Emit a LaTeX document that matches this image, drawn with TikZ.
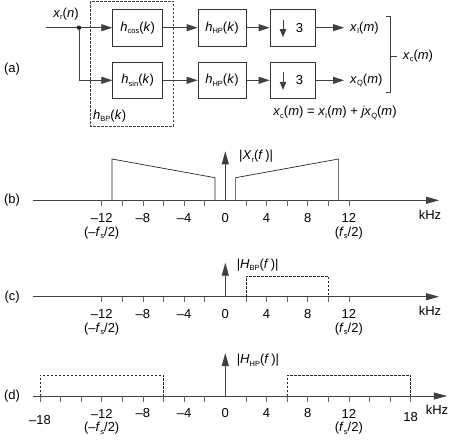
\documentclass[tikz,border=0pt]{standalone}
\usepackage{fontspec}
\setmainfont{Liberation Sans}
\usetikzlibrary{arrows.meta,positioning}
\newcommand{\vi}[1]{\textit{#1}}
\newcommand{\lo}[1]{\raisebox{-0.35ex}{\fontsize{7.5}{8}\selectfont #1}}
\newcommand{\kz}[1]{\ifnum#1<0 \textendash\number\numexpr-#1\relax\else#1\fi}
\tikzset{
  blk/.style={draw=black!80, line width=0.8pt, minimum width=50pt, minimum height=36.7pt, inner sep=0pt, font=\fontsize{13}{15}\selectfont},
  wire/.style={draw=black!75, line width=0.8pt},
  sig/.style={wire, -{Triangle[length=11pt,width=7pt]}},
  axis/.style={draw=black!75, line width=0.8pt, -{Triangle[length=13pt,width=7pt]}},
  tick/.style={draw=black!60, line width=0.8pt},
  spec/.style={draw=black!85, line width=0.7pt},
  filt/.style={draw=black!85, line width=0.7pt, dash pattern=on 2.5pt off 1.5pt},
  lbl/.style={font=\fontsize{13}{15}\selectfont, inner sep=0pt},
}
\begin{document}
\begin{tikzpicture}[x=1pt, y=-1pt]
\useasboundingbox (0,0) rectangle (449,439);
% (a) block diagram
\node[lbl] (pa) at (12,69) {(a)};
\coordinate (xin) at (46,27.7);
\node[lbl] (xr) at (66,14) {\vi{x}\lo{r}(\vi{n})};
\node[circle, fill=black!85, inner sep=0pt, minimum size=4.5pt] (split) at (79,27.7) {};
\node[blk] (hcos) at (137.7,27.7) {\vi{h}\lo{cos}(\vi{k})};
\node[blk] (hsin) at (137.7,80.3) {\vi{h}\lo{sin}(\vi{k})};
\node[blk, minimum width=48pt] (hpa) at (222,27.7) {\vi{h}\lo{HP}(\vi{k})};
\node[blk, minimum width=48pt] (hpb) at (222,80.3) {\vi{h}\lo{HP}(\vi{k})};
\node[blk, minimum width=45pt] (dna) at (292.5,27.7) {};
\node[blk, minimum width=45pt] (dnb) at (292.5,80.3) {};
\node[lbl] (dna3) at ([xshift=7pt]dna.center) {3};
\node[lbl] (dnb3) at ([xshift=7pt]dnb.center) {3};
\draw[sig, -{Triangle[length=8pt,width=6.5pt]}] ([xshift=-9.5pt,yshift=8pt]dna.center) -- ([xshift=-9.5pt,yshift=-9.5pt]dna.center);
\draw[sig, -{Triangle[length=8pt,width=6.5pt]}] ([xshift=-9.5pt,yshift=8pt]dnb.center) -- ([xshift=-9.5pt,yshift=-9.5pt]dnb.center);
\node[lbl, anchor=west, inner xsep=6pt] (xI) at (344,27.7) {\vi{x}\lo{I}(\vi{m})};
\node[lbl, anchor=west, inner xsep=6pt] (xQ) at (344,80.3) {\vi{x}\lo{Q}(\vi{m})};
\draw[wire] (xin) -- (split);
\draw[sig] (split) -- (hcos);
\draw[sig] (split) |- (hsin);
\draw[sig] (hcos) -- (hpa);
\draw[sig] (hsin) -- (hpb);
\draw[sig] (hpa) -- (dna);
\draw[sig] (hpb) -- (dnb);
\draw[sig] (dna) -- (xI);
\draw[sig] (dnb) -- (xQ);
\draw[black!75, line width=0.7pt, dash pattern=on 2.5pt off 1.5pt] (90,1) rectangle (173.3,126);
\node[lbl, anchor=west] (hbp) at (93,116) {\vi{h}\lo{BP}(\vi{k})};
\draw[wire] (386,16.3) -| (390.7,92.7) -- (386,92.7);
\coordinate (brmid) at (390.7,56);
\node[lbl, anchor=west, inner xsep=6pt] (xc) at (396.7,56) {\vi{x}\lo{c}(\vi{m})};
\draw[wire] (brmid) -- (xc);
\node[lbl] (eq) at (335,113) {\vi{x}\lo{c}(\vi{m}) = \vi{x}\lo{I}(\vi{m}) + \vi{jx}\lo{Q}(\vi{m})};
% (b) input spectrum
\begin{scope}[shift={(225.3,200.3)}, x=10.3pt, y=1pt]
  \node[lbl] (pb) at (-20.7,0) {(b)};
  \coordinate (b0) at (-18.67,0); \coordinate (b1) at (20.75,0);
  \coordinate (bo) at (0,0); \coordinate (bt) at (0,49);
  \draw[axis] (b0) -- (b1);
  \draw[axis] (bo) -- (bt);
  \foreach \f in {-12,-10,...,-2,2,4,...,12} \draw[tick] (\f,0) -- (\f,-5.5);
  \foreach \f in {-12,-8,...,12} \node[lbl] (bn\f) at (\f,-17.5) {\kz{\f}};
  \node[lbl] (bfl) at (-12,-32.5) {(\textendash\vi{f}\lo{s}/2)};
  \node[lbl] (bfr) at (12,-32.5) {(\vi{f}\lo{s}/2)};
  \node[lbl] (bkhz) at (19.87,-14) {kHz};
  \draw[spec] (-11,0) -- (-11,41.3) -- (-1,22.6) -- (-1,0);
  \draw[spec] (1,0) -- (1,22.6) -- (11,41.3) -- (11,0);
  \node[lbl, anchor=west] (bX) at (1.33,44) {|\vi{X}\lo{r}(\vi{f}\,)|};
\end{scope}
% (c) band-pass response
\begin{scope}[shift={(225.3,296.7)}, x=10.3pt, y=1pt]
  \node[lbl] (pc) at (-20.7,0) {(c)};
  \coordinate (c0) at (-18.67,0); \coordinate (c1) at (20.75,0);
  \coordinate (co) at (0,0); \coordinate (ct) at (0,34);
  \draw[axis] (c0) -- (c1);
  \draw[axis] (co) -- (ct);
  \foreach \f in {-12,-10,...,-2,2,4,...,12} \draw[tick] (\f,0) -- (\f,-5.5);
  \foreach \f in {-12,-8,...,12} \node[lbl] (cn\f) at (\f,-17.5) {\kz{\f}};
  \node[lbl] (cfl) at (-12,-32.5) {(\textendash\vi{f}\lo{s}/2)};
  \node[lbl] (cfr) at (12,-32.5) {(\vi{f}\lo{s}/2)};
  \node[lbl] (ckhz) at (19.87,-14) {kHz};
  \draw[filt] (2,0) -- (2,20.7) -- (10,20.7) -- (10,0);
  \node[lbl, anchor=west] (cH) at (1.1,32) {|\vi{H}\lo{BP}(\vi{f}\,)|};
\end{scope}
% (d) high-pass response
\begin{scope}[shift={(225.3,396)}, x=10.3pt, y=1pt]
  \node[lbl] (pd) at (-20.7,0) {(d)};
  \coordinate (d0) at (-18.67,0); \coordinate (d1) at (21.52,0);
  \coordinate (do) at (0,0); \coordinate (dt) at (0,43);
  \draw[axis] (d0) -- (d1);
  \draw[axis] (do) -- (dt);
  \foreach \f in {-18,-16,...,-2,2,4,...,18} \draw[tick] (\f,0) -- (\f,-5.5);
  \foreach \f in {-12,-8,...,12} \node[lbl] (dn\f) at (\f,-17.5) {\kz{\f}};
  \node[lbl] (dnl) at (-18,-24) {\textendash18};
  \node[lbl] (dnr) at (18,-21.5) {18};
  \node[lbl] (dfl) at (-12,-32.5) {(\textendash\vi{f}\lo{s}/2)};
  \node[lbl] (dfr) at (12,-32.5) {(\vi{f}\lo{s}/2)};
  \node[lbl] (dkhz) at (20.55,-14) {kHz};
  \draw[filt] (-18,0) -- (-18,21) -- (-6,21) -- (-6,0);
  \draw[filt] (6,0) -- (6,21) -- (18,21) -- (18,0);
  \node[lbl, anchor=west] (dH) at (1.1,35.5) {|\vi{H}\lo{HP}(\vi{f}\,)|};
\end{scope}
\end{tikzpicture}
\end{document}
